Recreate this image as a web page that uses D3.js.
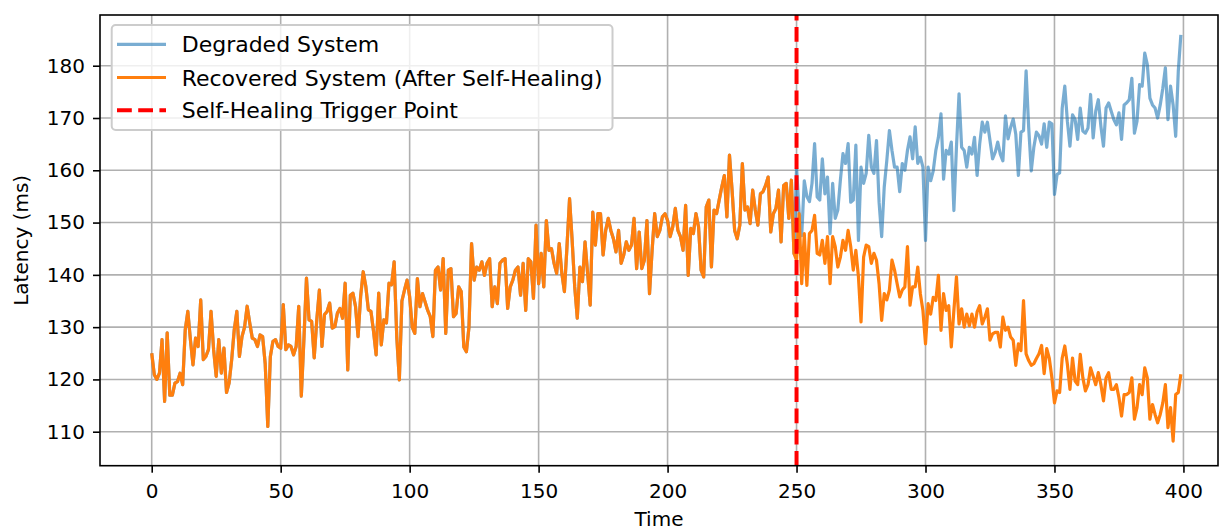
<!DOCTYPE html>
<html>
<head>
<meta charset="utf-8">
<script src="https://cdn.jsdelivr.net/npm/d3@7"></script>
<style>
    html, body { margin: 0; padding: 0; background: #fff; }
    svg { display: block; font-family: "DejaVu Sans", sans-serif; }
</style>
</head>
<body>
<svg id="chart"></svg>
<script>

// Data
var xTicks = [0, 50, 100, 150, 200, 250, 300, 350, 400];
var yTicks = [110, 120, 130, 140, 150, 160, 170, 180];
var triggerPoint = 250;
var seriesNames = ["Degraded System", "Recovered System (After Self-Healing)", "Self-Healing Trigger Point"];

// t = 0..249, both systems share these values before the trigger
var baseLatency = [
    125.0, 120.9, 120.0, 121.2, 127.6, 115.8, 128.9, 117.0, 117.0, 119.3,
    119.6, 121.2, 119.0, 129.5, 133.0, 127.6, 122.8, 127.9, 126.3, 135.2,
    123.8, 124.4, 125.7, 133.0, 125.7, 120.6, 127.6, 121.2, 126.0, 117.5,
    119.3, 123.8, 129.5, 133.0, 124.4, 128.2, 130.0, 134.0, 130.8, 127.9,
    127.6, 126.3, 128.5, 128.2, 123.0, 111.0, 124.4, 127.3, 127.6, 126.3,
    126.0, 134.3, 125.7, 126.6, 126.3, 124.7, 126.3, 134.0, 116.8, 127.6,
    139.4, 131.4, 131.1, 124.1, 131.4, 137.1, 126.3, 132.4, 133.0, 134.6,
    129.8, 130.1, 132.7, 133.6, 131.7, 138.4, 121.8, 136.1, 136.5, 134.0,
    128.2, 135.9, 140.6, 137.8, 133.3, 133.0, 129.2, 124.7, 136.5, 126.6,
    131.4, 130.8, 138.4, 138.1, 142.5, 128.2, 119.9, 135.0, 137.1, 139.0,
    135.8, 130.0, 128.8, 139.3, 133.9, 136.4, 134.8, 133.2, 132.0, 128.2,
    140.9, 141.5, 137.1, 143.1, 128.8, 140.9, 141.2, 132.0, 132.6, 137.7,
    136.8, 126.2, 125.3, 130.0, 146.0, 139.0, 141.5, 140.9, 142.5, 139.9,
    142.2, 143.1, 133.9, 137.7, 134.5, 142.2, 142.8, 143.1, 133.6, 137.7,
    139.0, 140.9, 141.5, 136.1, 142.2, 133.2, 143.1, 142.5, 135.5, 149.5,
    138.3, 144.1, 137.7, 150.4, 144.7, 145.0, 142.2, 140.3, 146.0, 140.3,
    136.8, 145.4, 154.6, 146.6, 137.7, 131.7, 141.5, 138.7, 146.3, 140.3,
    134.2, 152.0, 145.7, 151.7, 151.7, 143.8, 148.5, 150.8, 148.5, 146.9,
    144.4, 148.5, 142.2, 143.8, 146.3, 144.7, 145.7, 150.8, 141.2, 148.2,
    141.2, 142.8, 150.4, 136.4, 144.7, 151.7, 147.3, 148.5, 151.1, 151.7,
    150.4, 147.3, 149.2, 152.7, 148.5, 147.3, 144.7, 153.3, 139.9, 148.9,
    147.9, 151.7, 149.2, 140.9, 139.6, 153.0, 154.3, 141.5, 152.4, 151.7,
    154.3, 156.8, 159.0, 151.1, 162.9, 156.2, 148.5, 146.9, 149.5, 161.3,
    152.4, 153.0, 149.8, 156.2, 152.4, 149.5, 155.5, 155.9, 157.1, 158.7,
    148.2, 151.7, 152.7, 156.2, 146.3, 157.1, 157.5, 150.8, 158.1, 144.1
];

// t = 250..399, no self-healing
var degradedTail = [
    160.5, 152.0, 147.5, 158.0, 155.0, 154.0, 157.5, 165.1, 154.9, 154.3,
    162.2, 155.5, 158.7, 147.9, 157.5, 150.8, 152.4, 158.1, 163.2, 161.3,
    165.1, 153.9, 154.3, 164.8, 146.6, 160.6, 157.5, 159.4, 166.7, 160.6,
    159.4, 165.7, 153.9, 147.3, 156.8, 161.9, 167.6, 163.8, 160.6, 160.6,
    155.9, 161.3, 160.0, 163.8, 166.4, 162.2, 168.3, 161.3, 162.5, 160.6,
    146.6, 160.6, 158.0, 159.9, 163.8, 166.3, 170.8, 158.3, 163.8, 163.1,
    165.4, 152.3, 164.4, 174.6, 164.4, 163.8, 160.6, 164.4, 163.1, 166.3,
    159.0, 165.0, 169.2, 167.3, 169.2, 165.7, 162.2, 163.4, 165.4, 163.1,
    161.8, 170.4, 166.0, 168.2, 169.8, 166.9, 159.0, 167.3, 167.6, 179.0,
    168.2, 159.9, 164.4, 167.3, 166.6, 165.0, 168.9, 164.4, 169.2, 168.9,
    155.4, 159.2, 159.5, 171.9, 176.1, 169.4, 164.6, 170.6, 169.7, 165.9,
    171.9, 167.5, 167.1, 168.1, 174.5, 166.2, 171.3, 173.5, 168.4, 164.6,
    171.9, 172.9, 171.3, 169.7, 168.7, 171.0, 165.9, 172.5, 172.9, 173.5,
    177.6, 167.1, 169.4, 176.4, 176.1, 182.4, 180.2, 173.8, 172.5, 171.9,
    170.0, 172.5, 175.7, 179.6, 169.7, 176.1, 172.5, 166.5, 178.9, 185.9
];

// t = 250..399, after self-healing
var recoveredTail = [
    142.8, 151.7, 138.3, 147.9, 138.0, 147.9, 148.5, 151.4, 144.1, 143.8,
    146.6, 142.2, 147.3, 138.3, 147.3, 145.4, 141.5, 143.4, 146.6, 144.7,
    148.5, 145.4, 140.9, 144.7, 139.6, 131.0, 143.4, 145.7, 145.4, 142.2,
    144.1, 142.8, 138.3, 131.3, 136.4, 135.2, 137.1, 142.8, 140.9, 138.3,
    135.8, 137.1, 137.7, 145.4, 134.2, 137.7, 137.7, 141.5, 136.4, 133.2,
    126.8, 134.5, 132.5, 135.7, 135.1, 139.9, 129.4, 136.4, 133.2, 134.1,
    126.2, 133.2, 139.6, 130.6, 133.5, 130.0, 132.5, 130.3, 132.5, 130.0,
    132.9, 134.1, 130.6, 131.9, 133.5, 127.5, 128.7, 129.0, 129.0, 126.2,
    131.9, 129.4, 130.0, 128.1, 127.5, 122.7, 126.8, 125.5, 135.1, 124.9,
    123.6, 122.7, 123.0, 124.0, 124.9, 126.5, 121.1, 125.9, 124.0, 120.3,
    115.5, 117.8, 117.5, 124.1, 126.4, 122.9, 118.1, 124.1, 119.7, 119.0,
    124.8, 120.3, 117.8, 119.0, 122.2, 120.6, 119.0, 121.3, 119.0, 115.9,
    120.3, 121.3, 118.1, 118.1, 119.0, 116.5, 113.0, 117.1, 117.1, 117.5,
    120.3, 112.4, 114.6, 119.0, 117.1, 122.2, 120.3, 112.4, 115.2, 113.3,
    111.7, 113.3, 115.5, 119.0, 110.8, 114.6, 108.2, 117.1, 117.5, 121.0
];

// Layout
var width = 1232;
var height = 530;
var plotLeft = 100, plotRight = 1218, plotTop = 15, plotBottom = 465.7;
var fontSize = 20;
var legendFontSize = 22;
var blue = "#1f77b4";
var orange = "#ff7f0e";

var degraded = baseLatency.concat(degradedTail);
var recovered = baseLatency.concat(recoveredTail);

var svg = d3.select("#chart")
    .attr("width", width)
    .attr("height", height);

var x = d3.scaleLinear().domain([-20.05, 413.4]).range([plotLeft, plotRight]);
var y = d3.scaleLinear().domain([103.5, 189.7]).range([plotBottom, plotTop]);

// Grid lines first so everything else sits on top
var grid = svg.append("g").attr("class", "grid");
grid.selectAll("line.vx").data(xTicks).enter().append("line")
    .attr("x1", function (d) { return x(d); })
    .attr("x2", function (d) { return x(d); })
    .attr("y1", plotTop).attr("y2", plotBottom)
    .style("stroke", "#b0b0b0").style("stroke-width", 1.6);
grid.selectAll("line.hy").data(yTicks).enter().append("line")
    .attr("x1", plotLeft).attr("x2", plotRight)
    .attr("y1", function (d) { return y(d); })
    .attr("y2", function (d) { return y(d); })
    .style("stroke", "#b0b0b0").style("stroke-width", 1.6);

var line = d3.line()
    .x(function (d, i) { return x(i); })
    .y(function (d) { return y(d); });

svg.append("clipPath").attr("id", "plotClip")
    .append("rect")
    .attr("x", plotLeft).attr("y", plotTop)
    .attr("width", plotRight - plotLeft).attr("height", plotBottom - plotTop);

var lines = svg.append("g").attr("clip-path", "url(#plotClip)");

lines.append("path").datum(degraded)
    .attr("d", line)
    .style("fill", "none").style("stroke", blue).style("stroke-opacity", 0.6)
    .style("stroke-width", 3.2).style("stroke-linejoin", "round");

lines.append("path").datum(recovered)
    .attr("d", line)
    .style("fill", "none").style("stroke", orange)
    .style("stroke-width", 3.2).style("stroke-linejoin", "round");

// trigger line, drawn bottom-up like matplotlib's axvline
lines.append("line")
    .attr("x1", x(triggerPoint)).attr("x2", x(triggerPoint))
    .attr("y1", plotBottom).attr("y2", plotTop)
    .style("stroke", "red").style("stroke-width", 4)
    .style("stroke-dasharray", "14.8,6.4");

// Axes
var xAxis = svg.append("g")
    .attr("transform", "translate(0," + plotBottom + ")")
    .call(d3.axisBottom(x).tickValues(xTicks).tickSize(7).tickPadding(11));
var yAxis = svg.append("g")
    .attr("transform", "translate(" + plotLeft + ",0)")
    .call(d3.axisLeft(y).tickValues(yTicks).tickSize(7).tickPadding(8));

[xAxis, yAxis].forEach(function (ax) {
    ax.select(".domain").remove();
    ax.selectAll(".tick line").style("stroke", "#000").style("stroke-width", 1.6);
    ax.selectAll(".tick text")
        .style("font-size", fontSize + "px")
        .style("font-family", "DejaVu Sans")
        .style("fill", "#000");
});

svg.append("rect")
    .attr("x", plotLeft).attr("y", plotTop)
    .attr("width", plotRight - plotLeft).attr("height", plotBottom - plotTop)
    .style("fill", "none").style("stroke", "#000").style("stroke-width", 1.6);

svg.append("text")
    .attr("x", (plotLeft + plotRight) / 2).attr("y", 526)
    .attr("text-anchor", "middle")
    .style("font-size", fontSize + "px").style("fill", "#000")
    .text("Time");

svg.append("text")
    .attr("transform", "translate(21," + (plotTop + plotBottom) / 2 + ") rotate(-90)")
    .attr("text-anchor", "middle")
    .attr("dominant-baseline", "central")
    .style("font-size", fontSize + "px").style("fill", "#000")
    .text("Latency (ms)");

// Legend
var legend = svg.append("g").attr("class", "legend");
var legendBox = legend.append("rect")
    .attr("x", 111.7).attr("y", 25)
    .attr("height", 105).attr("rx", 4)
    .style("fill", "#fff").style("fill-opacity", 0.8)
    .style("stroke", "#cccccc").style("stroke-width", 2);

var legendStyles = [
    { color: blue, opacity: 0.6, dash: null },
    { color: orange, opacity: 1, dash: null },
    { color: "red", opacity: 1, dash: "14.8,6.4" }
];
var rowY = [44.3, 77.5, 110.3];
var maxTextWidth = 0;

seriesNames.forEach(function (name, i) {
    var s = legendStyles[i];
    legend.append("line")
        .attr("x1", 117).attr("x2", 166)
        .attr("y1", rowY[i]).attr("y2", rowY[i])
        .style("stroke", s.color).style("stroke-opacity", s.opacity)
        .style("stroke-width", i === 2 ? 4 : 3.2)
        .style("stroke-dasharray", s.dash);
    var t = legend.append("text")
        .attr("x", 181.7).attr("y", rowY[i] + 8)
        .style("font-size", legendFontSize + "px").style("fill", "#000")
        .text(name);
    maxTextWidth = Math.max(maxTextWidth, t.node().getComputedTextLength());
});

legendBox.attr("width", 181.7 + maxTextWidth + 10 - 111.7);

</script>
</body>
</html>
